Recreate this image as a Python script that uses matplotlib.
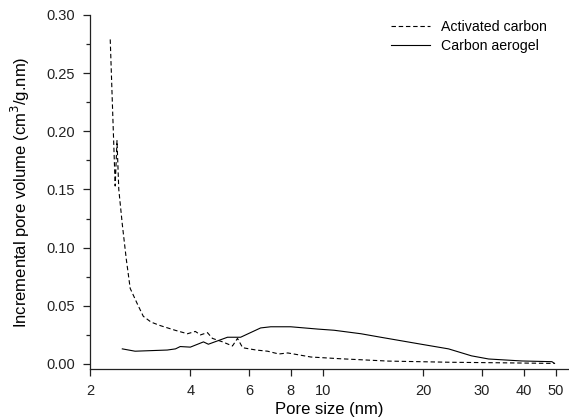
import matplotlib.pyplot as plt
from matplotlib.ticker import FixedLocator, FixedFormatter, MultipleLocator, NullLocator

plt.rcParams['font.family'] = ['Liberation Sans', 'DejaVu Sans']

# activated carbon pore size distribution
ac_size = [2.30, 2.34, 2.38, 2.41, 2.44, 2.50, 2.57, 2.64, 2.77, 2.89, 3.05, 3.25,
           3.6, 3.92, 4.14, 4.29, 4.50, 4.66, 5.0, 5.35, 5.54, 5.74, 6.3, 6.82,
           7.37, 7.84, 9.2, 11.3, 15.7, 24.0, 35.0, 49.5]
ac_vol = [0.279, 0.215, 0.153, 0.192, 0.150, 0.120, 0.090, 0.065, 0.052, 0.041, 0.036, 0.033,
          0.029, 0.026, 0.028, 0.025, 0.027, 0.022, 0.019, 0.0155, 0.022, 0.014, 0.012, 0.011,
          0.0086, 0.0095, 0.006, 0.0045, 0.0025, 0.0015, 0.001, 0.0005]

# carbon aerogel pore size distribution
ca_size = [2.50, 2.73, 3.41, 3.61, 3.73, 4.0, 4.38, 4.53, 5.17, 5.66, 6.50, 6.97,
           8.0, 9.66, 10.8, 13.0, 14.9, 19.7, 23.8, 27.9, 31.4, 39.5, 48.6, 49.5]
ca_vol = [0.013, 0.011, 0.012, 0.013, 0.015, 0.0145, 0.019, 0.017, 0.023, 0.023, 0.031, 0.032,
          0.032, 0.030, 0.029, 0.026, 0.023, 0.017, 0.013, 0.007, 0.0043, 0.0026, 0.002, 0.0005]

x_ticks = [2, 4, 6, 8, 10, 20, 30, 40, 50]

fig = plt.figure(figsize=(5.69, 4.19), dpi=100)
ax = fig.add_axes([90 / 569, 1 - 369 / 419, 479 / 569, (369 - 15) / 419])

ax.plot(ac_size, ac_vol, color='black', lw=0.8, ls=(0, (4, 2.5)), label='Activated carbon')
ax.plot(ca_size, ca_vol, color='black', lw=0.8, label='Carbon aerogel')

ax.set_xscale('log')
ax.set_xlim(2, 54.7)
ax.set_ylim(-0.0043, 0.30)

ax.xaxis.set_major_locator(FixedLocator(x_ticks))
ax.xaxis.set_major_formatter(FixedFormatter([str(t) for t in x_ticks]))
ax.xaxis.set_minor_locator(NullLocator())
ax.yaxis.set_major_locator(MultipleLocator(0.05))
ax.yaxis.set_minor_locator(MultipleLocator(0.025))
ax.yaxis.set_major_formatter(plt.FuncFormatter(lambda v, p: f'{v:.2f}'))

for side in ('top', 'right'):
    ax.spines[side].set_visible(False)
for side in ('left', 'bottom'):
    ax.spines[side].set_linewidth(0.9)
    ax.spines[side].set_color('#222222')

ax.tick_params(which='major', direction='out', length=5, width=0.9, labelsize=10.5,
               colors='#222222', pad=6)
ax.tick_params(which='minor', direction='out', length=3, width=0.9, colors='#222222')

ax.set_xlabel('Pore size (nm)', fontsize=12, labelpad=3)
ax.set_ylabel('Incremental pore volume (cm$^3$/g.nm)', fontsize=12, labelpad=10)

ax.legend(loc='upper left', bbox_to_anchor=(391 / 569, 1 - 20 / 419),
          bbox_transform=fig.transFigure, frameon=False, fontsize=10.2,
          borderpad=0, borderaxespad=0, handlelength=2.75, handletextpad=0.75,
          labelspacing=0.35)

fig.savefig('out.png', dpi=100)
